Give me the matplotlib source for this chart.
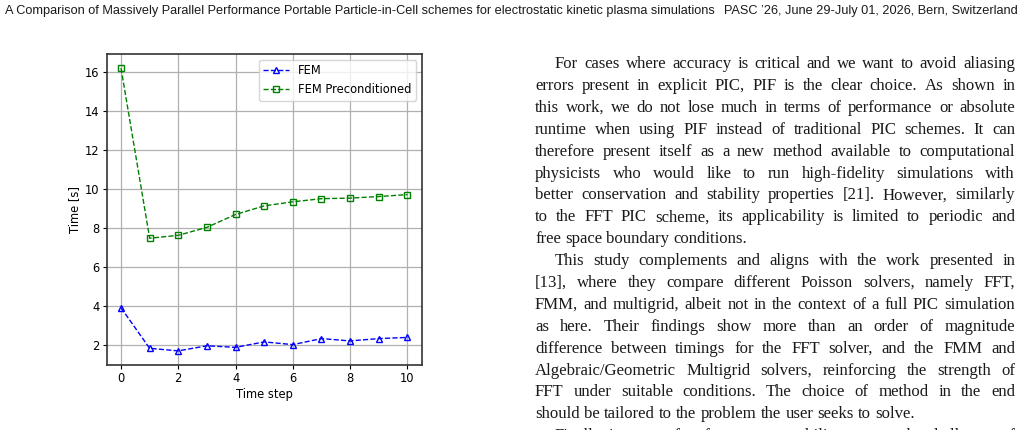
import matplotlib
matplotlib.use("Agg")
import matplotlib.pyplot as plt

# datos del grafico
pasos = [0, 1, 2, 3, 4, 5, 6, 7, 8, 9, 10]
tiempo_fem = [3.89, 1.81, 1.68, 1.94, 1.86, 2.14, 2.0, 2.31, 2.19, 2.31, 2.37]
tiempo_fem_precond = [16.19, 7.46, 7.61, 8.02, 8.68, 9.12, 9.33, 9.49, 9.52, 9.6, 9.7]

# texto de la pagina
cabecera_izq = "A Comparison of Massively Parallel Performance Portable Particle-in-Cell schemes for electrostatic kinetic plasma simulations"
cabecera_der = "PASC \u201926, June 29-July 01, 2026, Bern, Switzerland"
lineas = [
    ("For cases where accuracy is critical and we want to avoid aliasing", True, False),
    ("errors present in explicit PIC, PIF is the clear choice. As shown in", False, False),
    ("this work, we do not lose much in terms of performance or absolute", False, False),
    ("runtime when using PIF instead of traditional PIC schemes. It can", False, False),
    ("therefore present itself as a new method available to computational", False, False),
    ("physicists who would like to run high-fidelity simulations with", False, False),
    ("better conservation and stability properties [21]. However, similarly", False, False),
    ("to the FFT PIC scheme, its applicability is limited to periodic and", False, False),
    ("free space boundary conditions.", False, True),
    ("This study complements and aligns with the work presented in", True, False),
    ("[13], where they compare different Poisson solvers, namely FFT,", False, False),
    ("FMM, and multigrid, albeit not in the context of a full PIC simulation", False, False),
    ("as here. Their findings show more than an order of magnitude", False, False),
    ("difference between timings for the FFT solver, and the FMM and", False, False),
    ("Algebraic/Geometric Multigrid solvers, reinforcing the strength of", False, False),
    ("FFT under suitable conditions. The choice of method in the end", False, False),
    ("should be tailored to the problem the user seeks to solve.", False, True),
    ("Finally, in terms of performance portability, we note the challenges of", True, False),
]

W, H = 1023, 430
fig = plt.figure(figsize=(W / 100, H / 100), dpi=100)
fig.patch.set_facecolor("white")

# grafico
ax = fig.add_axes([106.7 / W, 1 - 365 / H, 315 / W, 311 / H])
ax.plot(pasos, tiempo_fem, "b^--", mfc="none", ms=5, lw=1, label="FEM")
ax.plot(pasos, tiempo_fem_precond, "gs--", mfc="none", ms=5, lw=1, label="FEM Preconditioned")
ax.set_xlabel("Time step", fontsize=8.3, labelpad=2)
ax.set_ylabel("Time [s]", fontsize=8.3, labelpad=3)
ax.tick_params(labelsize=8.3, length=3, pad=2)
ax.grid(True, color="#b0b0b0", lw=0.9)
for s in ax.spines.values():
    s.set_color("#333333")
    s.set_linewidth(1.2)
ax.legend(loc="upper right", fontsize=8.3, handlelength=2.2)

renderer = fig.canvas.get_renderer()
serif = ["Liberation Serif", "DejaVu Serif"]
color_texto = "#1a1a1a"


def px(x, y):
    return x / W, 1 - y / H


def ancho(texto, tam, familia):
    t = fig.text(0, 0, texto, fontsize=tam, family=familia)
    w = t.get_window_extent(renderer).width
    t.remove()
    return w


# un solo tamaño de letra: la linea mas apretada decide (hueco minimo 0.2 em)
tam_cuerpo = 100
for texto, sangria, ultima in lineas:
    if ultima:
        continue
    disp = 460 if sangria else 480
    palabras = texto.split(" ")
    w10 = sum(ancho(p, 10, serif) for p in palabras)
    hueco10 = 0.2 * 10 * 100 / 72
    tam_cuerpo = min(tam_cuerpo, 10 * disp / (w10 + hueco10 * (len(palabras) - 1)))


def linea_justificada(texto, x0, x1, y, ultima):
    palabras = texto.split(" ")
    anchos = [ancho(p, tam_cuerpo, serif) for p in palabras]
    if ultima or len(palabras) == 1:
        hueco = ancho("a a", tam_cuerpo, serif) - 2 * ancho("a", tam_cuerpo, serif)
    else:
        hueco = (x1 - x0 - sum(anchos)) / (len(palabras) - 1)
    x = x0
    for p, a in zip(palabras, anchos):
        fig.text(*px(x, y), p, fontsize=tam_cuerpo, family=serif, va="baseline",
                 ha="left", color=color_texto)
        x += a + hueco


for i, (texto, sangria, ultima) in enumerate(lineas):
    y = 68 + 21.9 * i
    x0 = 555 if sangria else 535
    linea_justificada(texto, x0, 1015, y, ultima)

# cabecera
sans = ["Liberation Sans", "DejaVu Sans"]
w_total = ancho(cabecera_izq, 10, sans) + ancho(cabecera_der, 10, sans)
tam = 10 * 1012 / w_total
fig.text(*px(5, 14), cabecera_izq, fontsize=tam, family=sans, va="baseline", ha="left", color=color_texto)
fig.text(*px(1018, 14), cabecera_der, fontsize=tam, family=sans, va="baseline", ha="right", color=color_texto)

fig.savefig("out.png", dpi=100)
